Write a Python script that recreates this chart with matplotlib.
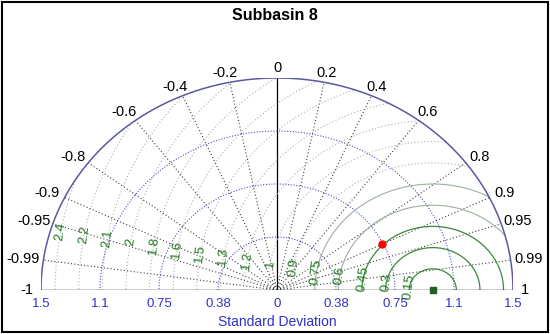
import numpy as np
import matplotlib
matplotlib.use('Agg')
import matplotlib.pyplot as plt
from matplotlib.patches import Polygon, Rectangle

plt.rcParams['font.family'] = ['Liberation Sans', 'DejaVu Sans']

# data
title = 'Subbasin 8'
ref_std = 0.99
model_std = 0.74
model_corr = 0.90

corr_ticks = [-1, -0.99, -0.95, -0.9, -0.8, -0.6, -0.4, -0.2, 0,
              0.2, 0.4, 0.6, 0.8, 0.9, 0.95, 0.99, 1]
corr_labels = ['-1', '-0.99', '-0.95', '-0.9', '-0.8', '-0.6', '-0.4', '-0.2', '0',
               '0.2', '0.4', '0.6', '0.8', '0.9', '0.95', '0.99', '1']
std_ticks = [0.375, 0.75, 1.125]
std_max = 1.5
x_ticks = [-1.5, -1.125, -0.75, -0.375, 0, 0.375, 0.75, 1.125, 1.5]
x_labels = ['1.5', '1.1', '0.75', '0.38', '0', '0.38', '0.75', '1.1', '1.5']
rms_levels = [0.15, 0.3, 0.45, 0.6, 0.75, 0.9, 1.05, 1.2, 1.35, 1.5,
              1.65, 1.8, 1.95, 2.1, 2.25, 2.4]
rms_labels = ['0.15', '0.3', '0.45', '0.6', '0.75', '0.9', '1', '1.2', '1.3', '1.5',
              '1.6', '1.8', '2', '2.1', '2.2', '2.4']

blue = '#3030c8'
green = '#1f7a1f'

fig = plt.figure(figsize=(5.5, 3.34), dpi=100)
ax = fig.add_axes([41 / 550, 1 - 290 / 334, 472 / 550, 212 / 334])
ax.set_xlim(-std_max, std_max)
ax.set_ylim(0, std_max)
ax.axis('off')

t = np.linspace(0, np.pi, 400)

# clip region = the half disc
half = Polygon(np.column_stack([std_max * np.cos(t), std_max * np.sin(t)]),
               closed=True, transform=ax.transData, facecolor='none', edgecolor='none')
ax.add_patch(half)

# std arcs
for s in std_ticks:
    ax.plot(s * np.cos(t), s * np.sin(t), color='#5050d0', lw=0.8, ls=(0, (1, 1.5)))

# correlation lines
for c in corr_ticks:
    if abs(c) == 1:
        continue
    a = np.arccos(c)
    if c == 0:
        ax.plot([0, 0], [0, std_max], color='black', lw=0.9)
    else:
        ax.plot([0, std_max * np.cos(a)], [0, std_max * np.sin(a)],
                color='#404040', lw=0.8, ls=(0, (1, 2)))

# centred rms arcs around the reference point
for r, lab in zip(rms_levels, rms_labels):
    if r <= 0.45:
        kw = dict(color='#3a8a3a', lw=0.9, ls='-')
    elif r <= 0.75:
        kw = dict(color='#9cb29c', lw=0.8, ls='-')
    else:
        kw = dict(color='#aab4aa', lw=0.8, ls=(0, (1, 2)))
    ln, = ax.plot(ref_std + r * np.cos(t), r * np.sin(t), **kw)
    ln.set_clip_path(half)
    ang = np.deg2rad(170)
    ax.text(ref_std + r * np.cos(ang), r * np.sin(ang), lab, color=green,
            fontsize=9.5, rotation=83, ha='center', va='center')

# outer circle and axis
ax.plot(std_max * np.cos(t), std_max * np.sin(t), color='#5a5aa0', lw=1.1)
ax.plot([-std_max, std_max], [0, 0], color='black', lw=1.0)

# correlation labels
for c, lab in zip(corr_ticks, corr_labels):
    a = np.arccos(c)
    dx = 7 * c * abs(c)
    if abs(c) == 1:
        dx = 1 * c
    if c < 0:
        dx -= 2.4
    ax.annotate(lab, (1.57 * np.cos(a), 1.57 * np.sin(a)), xytext=(dx * 0.72, 0),
                textcoords='offset points', ha='center', va='center',
                fontsize=10.5, color='black', annotation_clip=False)

# std tick labels
for x, lab in zip(x_ticks, x_labels):
    ax.annotate(lab, (x, 0), xytext=(0, -14 * 0.72), textcoords='offset points',
                ha='center', va='center', fontsize=9.5, color=blue,
                annotation_clip=False)
fig.text(277 / 550, 1 - 322 / 334, 'Standard Deviation', color=blue,
         fontsize=10, ha='center', va='center')

# points
ax.plot(ref_std, 0, marker='s', color='#1f5f1f', ms=4.5, clip_on=False, zorder=5)
a = np.arccos(model_corr)
ax.plot(model_std * np.cos(a), model_std * np.sin(a), marker='o', color='red',
        ms=5, clip_on=False, zorder=5)

fig.text(275 / 550, 1 - 15 / 334, title, fontsize=11.5, fontweight='bold',
         ha='center', va='center')

fig.patches.append(Rectangle((0.004, 0.006), 0.992, 0.988, transform=fig.transFigure,
                             fill=False, edgecolor='black', lw=1.5))

plt.savefig('out.png', dpi=100)
plt.close()
